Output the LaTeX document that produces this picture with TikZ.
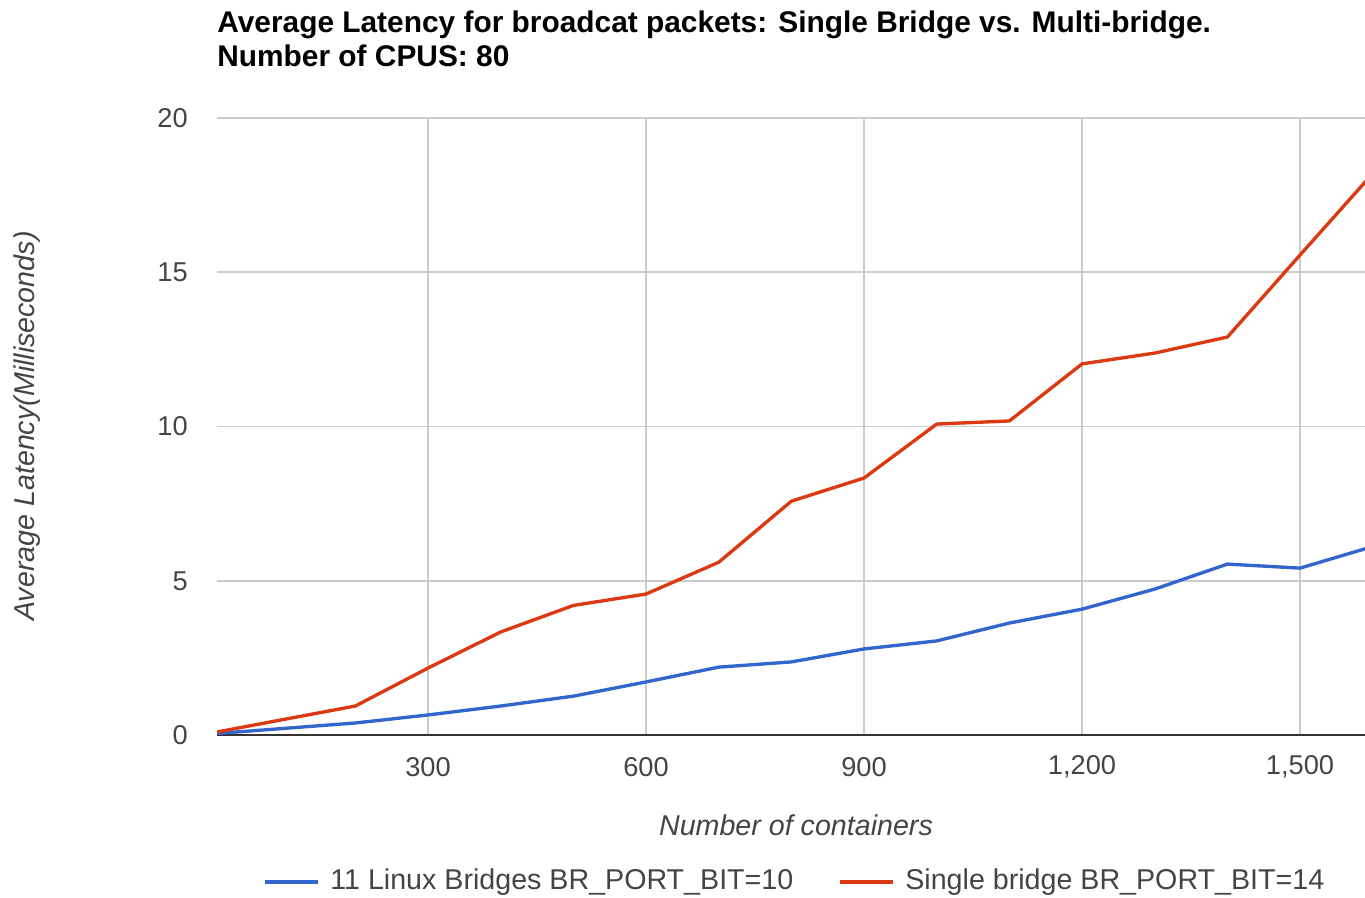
\documentclass[tikz,border=0pt]{standalone}
\usepackage{fontspec}
\setmainfont{Liberation Sans}
\usepackage{tikz}
\usetikzlibrary{positioning}
\definecolor{lineblue}{HTML}{3366CC}
\definecolor{linered}{HTML}{DC3912}
\definecolor{gridgray}{HTML}{CCCCCC}
\definecolor{labelgray}{HTML}{444444}
\tikzstyle{gridline} = [draw=gridgray, line width=1.1pt]
\tikzstyle{axisline} = [draw=black!80, line width=1.2pt]
\tikzstyle{ticklabel} = [font=\fontsize{15.5}{18}\selectfont, text=labelgray, inner sep=0pt]
\tikzstyle{axistitle} = [font=\fontsize{16.3}{19}\selectfont\itshape, text=labelgray, inner sep=0pt]
\tikzstyle{heading} = [font=\fontsize{17}{20}\selectfont\bfseries, inner sep=0pt, anchor=base west]
\tikzstyle{legendtext} = [font=\fontsize{16.3}{19}\selectfont, text=labelgray, inner sep=0pt, anchor=west]
\tikzstyle{series} = [line width=1.9pt, line join=round]
\def\xs{0.7267}
\def\ys{30.85}

\begin{document}
\begin{tikzpicture}[x=0.02cm, y=-0.02cm]
\useasboundingbox (0,0) rectangle (1365,897);

\node (title1) [heading] at (217,32) {Average Latency for broadcat packets: Single Bridge vs. Multi-bridge.};
\node (title2) [heading] at (217,66) {Number of CPUS: 80};

% grid
\foreach \v in {5,10,15,20}
  \draw [gridline] (217,{735-\v*\ys}) -- (1365,{735-\v*\ys});
\foreach \h in {300,600,900,1200,1500}
  \draw [gridline] ({210+\h*\xs},118) -- ({210+\h*\xs},735);
\draw [axisline] (217,735) -- (1365,735);

% tick labels
\foreach \v in {0,5,10,15,20}
  \node [ticklabel, anchor=east] at (188,{735-\v*\ys}) {\v};
\foreach \h/\lab in {300/300,600/600,900/900,1200/{1,200},1500/{1,500}}
  \node [ticklabel] at ({210+\h*\xs},767) {\lab};

\node (xtitle) [axistitle] at (796,825) {Number of containers};
\node (ytitle) [axistitle, rotate=90] at (27,426) {Average Latency(Milliseconds)};

% data
\begin{scope}
\clip (217,100) rectangle (1365,740);
\begin{scope}[shift={(210,735)}, xscale=\xs, yscale=-\ys]
\draw [series, lineblue] plot coordinates {(10,0.05) (200,0.39) (300,0.65) (400,0.94) (500,1.26) (600,1.72) (700,2.2) (800,2.37) (900,2.79) (1000,3.05) (1100,3.63) (1200,4.08) (1300,4.73) (1400,5.54) (1500,5.41) (1600,6.11)};
\draw [series, linered] plot coordinates {(10,0.1) (200,0.94) (300,2.17) (400,3.34) (500,4.2) (600,4.57) (700,5.6) (800,7.58) (900,8.33) (1000,10.08) (1100,10.18) (1200,12.03) (1300,12.38) (1400,12.9) (1500,15.56) (1600,18.2)};
\end{scope}
\end{scope}

% legend
\coordinate (bluekey) at (318,882);
\draw [series, lineblue] (bluekey) -- ++(-53,0);
\node (bluelabel) [legendtext, right=0.24cm of bluekey] {11 Linux Bridges BR\_PORT\_BIT=10};
\coordinate (redkey) at (893,882);
\draw [series, linered] (redkey) -- ++(-53,0);
\node (redlabel) [legendtext, right=0.24cm of redkey] {Single bridge BR\_PORT\_BIT=14};

\end{tikzpicture}
\end{document}
